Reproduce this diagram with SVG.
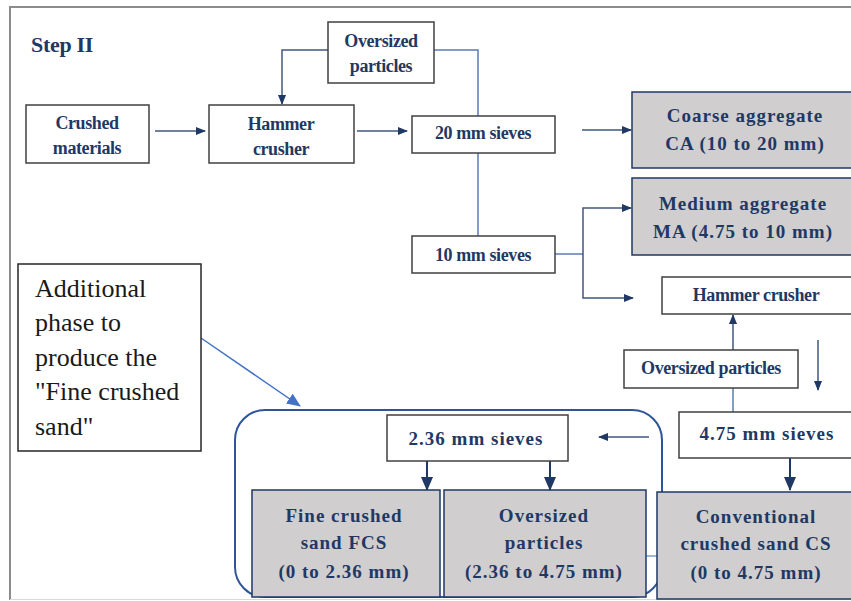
<svg xmlns="http://www.w3.org/2000/svg" width="851" height="601" viewBox="0 0 851 601">
<defs>
<marker id="ah" markerWidth="10" markerHeight="8" refX="9" refY="4" orient="auto" markerUnits="userSpaceOnUse">
<path d="M0,0 L10,4 L0,8 Z" fill="#1f3864"/>
</marker>
<marker id="ahb" markerWidth="14" markerHeight="12" refX="13" refY="6" orient="auto" markerUnits="userSpaceOnUse">
<path d="M0,0 L14,6 L0,12 Z" fill="#1f3864"/>
</marker>
<marker id="ahl" markerWidth="14" markerHeight="12" refX="13" refY="6" orient="auto" markerUnits="userSpaceOnUse">
<path d="M0,0 L14,6 L0,12 Z" fill="#4472c4"/>
</marker>
<style>
.wb{fill:#fff;stroke:#404040;stroke-width:1.5}
.gb{fill:#d0cece;stroke:#1f3864;stroke-width:1.5}
.t{font-family:"Liberation Serif",serif;font-weight:bold;fill:#1f3864;text-anchor:middle}
.s{font-size:18px;letter-spacing:-0.4px}
.g{font-size:19px;letter-spacing:1px}
.ln{fill:none;stroke:#5b7bb3;stroke-width:1.5}
.ar{fill:none;stroke:#41577f;stroke-width:1.5;marker-end:url(#ah)}
.arb{fill:none;stroke:#1f3864;stroke-width:2;marker-end:url(#ahb)}
</style>
</defs>
<rect width="851" height="601" fill="#fff"/>
<g id="frame">
<path d="M10,600 L10,7 L851,7" fill="none" stroke="#8c8c8c" stroke-width="2"/>
<line x1="10" y1="599.5" x2="851" y2="599.5" stroke="#d9d9d9" stroke-width="1"/>
</g>
<text x="31" y="52" font-family="Liberation Serif,serif" font-weight="bold" font-size="22" fill="#1f3864" letter-spacing="-0.3">Step II</text>

<g id="phase-group">
<rect x="235" y="410" width="427" height="187" rx="30" fill="none" stroke="#2f5597" stroke-width="2"/>
</g>

<g id="connectors">
<polyline class="ar" points="328,50 282,50 282,104"/>
<polyline class="ln" points="434,50 478,50 478,116"/>
<line class="ln" x1="478" y1="153" x2="478" y2="236"/>
<line class="ar" x1="155" y1="131" x2="205" y2="131"/>
<line class="ar" x1="357" y1="131" x2="407" y2="131"/>
<line class="ar" x1="582" y1="130" x2="631" y2="130"/>
<polyline class="ln" points="555,254 583,254"/>
<polyline class="ar" points="583,254 583,208 631,208"/>
<polyline class="ar" points="583,254 583,298 633,298"/>
<line class="ar" x1="733" y1="350" x2="733" y2="315"/>
<line class="ln" x1="733" y1="388" x2="733" y2="412"/>
<line class="ar" x1="818" y1="340" x2="818" y2="390"/>
<line class="ar" x1="649" y1="437" x2="599" y2="437"/>
<line class="arb" x1="790" y1="458" x2="790" y2="490"/>
<line class="arb" x1="427" y1="461" x2="427" y2="490"/>
<line class="arb" x1="550" y1="461" x2="550" y2="490"/>
<line x1="646" y1="556" x2="657" y2="556" stroke="#7f9cc8" stroke-width="1.5"/>
<line x1="201" y1="338" x2="300" y2="406" stroke="#4472c4" stroke-width="1.5" marker-end="url(#ahl)"/>
</g>

<g id="crushed-materials">
<rect class="wb" x="26" y="105" width="123" height="58"/>
<text class="t s" x="87" y="129">Crushed</text>
<text class="t s" x="87" y="154">materials</text>
</g>
<g id="hammer-crusher-1">
<rect class="wb" x="209" y="105" width="145" height="58"/>
<text class="t s" x="281" y="130">Hammer</text>
<text class="t s" x="281" y="155">crusher</text>
</g>
<g id="oversized-1">
<rect class="wb" x="328" y="22" width="106" height="61"/>
<text class="t s" x="381" y="47">Oversized</text>
<text class="t s" x="381" y="72">particles</text>
</g>
<g id="sieves-20">
<rect class="wb" x="412" y="116" width="143" height="37"/>
<text class="t s" x="483" y="139">20 mm sieves</text>
</g>
<g id="coarse-aggregate">
<rect class="gb" x="632" y="92" width="226" height="76"/>
<text class="t g" x="745" y="121.5">Coarse aggregate</text>
<text class="t g" x="745" y="149.5">CA (10 to 20 mm)</text>
</g>
<g id="medium-aggregate">
<rect class="gb" x="632" y="178" width="226" height="77"/>
<text class="t g" x="743" y="209.5" letter-spacing="0.6">Medium aggregate</text>
<text class="t g" x="743" y="237.5">MA (4.75 to 10 mm)</text>
</g>
<g id="sieves-10">
<rect class="wb" x="412" y="236" width="143" height="37"/>
<text class="t s" x="483" y="261">10 mm sieves</text>
</g>
<g id="hammer-crusher-2">
<rect class="wb" x="662" y="277" width="196" height="37"/>
<text class="t s" x="756" y="301">Hammer crusher</text>
</g>
<g id="oversized-2">
<rect class="wb" x="624" y="350" width="174" height="38"/>
<text class="t s" x="711" y="374" letter-spacing="-0.2">Oversized particles</text>
</g>
<g id="sieves-475">
<rect class="wb" x="679" y="412" width="180" height="46"/>
<text class="t g" x="767" y="439.5">4.75 mm sieves</text>
</g>
<g id="conventional-sand">
<rect class="gb" x="657" y="492" width="200" height="107"/>
<text class="t g" x="756" y="522.5">Conventional</text>
<text class="t g" x="756" y="549.5">crushed sand CS</text>
<text class="t g" x="756" y="578.5">(0 to 4.75 mm)</text>
</g>
<g id="sieves-236">
<rect class="wb" x="387" y="415" width="181" height="46"/>
<text class="t g" x="476" y="444.5">2.36 mm sieves</text>
</g>
<g id="fine-crushed-sand">
<rect class="gb" x="252" y="490" width="188" height="107"/>
<text class="t g" x="344" y="521.5">Fine crushed</text>
<text class="t g" x="344" y="548.5">sand FCS</text>
<text class="t g" x="344" y="577.5">(0 to 2.36 mm)</text>
</g>
<g id="oversized-3">
<rect class="gb" x="444" y="490" width="202" height="107"/>
<text class="t g" x="544" y="521.5">Oversized</text>
<text class="t g" x="544" y="548.5">particles</text>
<text class="t g" x="544" y="577.5">(2.36 to 4.75 mm)</text>
</g>
<g id="additional-phase">
<rect x="18" y="264" width="183" height="187" fill="#fff" stroke="#262626" stroke-width="1.5"/>
<text font-family="Liberation Serif,serif" font-size="26" fill="#1a1a1a">
<tspan x="35" y="297">Additional</tspan>
<tspan x="35" y="331">phase to</tspan>
<tspan x="35" y="366">produce the</tspan>
<tspan x="35" y="400">"Fine crushed</tspan>
<tspan x="35" y="435">sand"</tspan>
</text>
</g>
</svg>
